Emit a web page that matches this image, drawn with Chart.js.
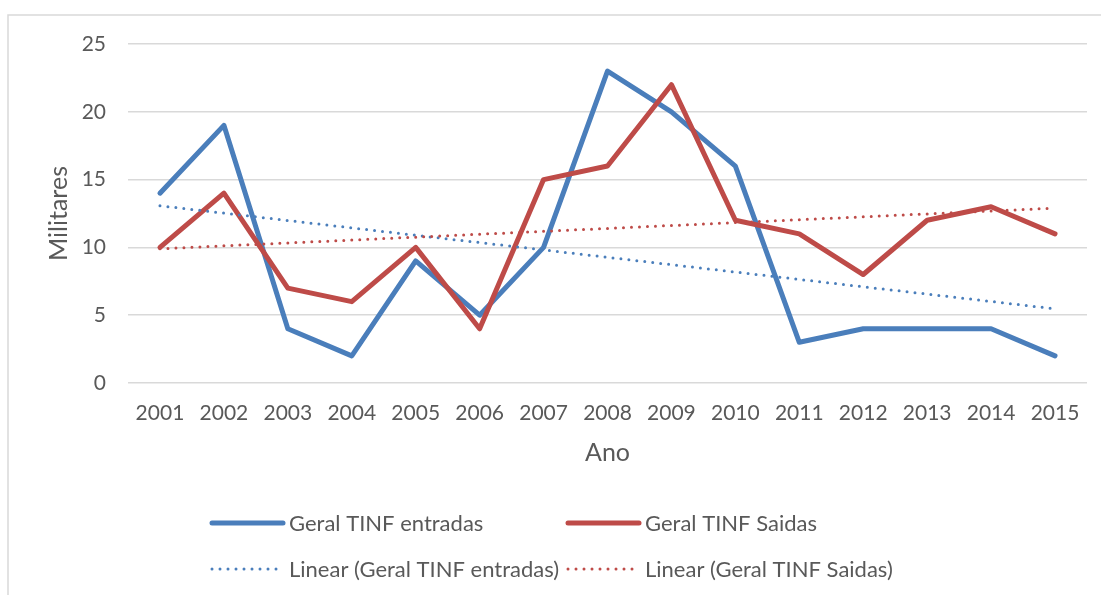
<!DOCTYPE html>
<html>
<head>
<meta charset="utf-8">
<script src="https://cdn.jsdelivr.net/npm/chart.js@4/dist/chart.umd.min.js"></script>
<style>
  html, body { margin: 0; padding: 0; background: #fff; overflow: hidden; }
  canvas { display: block; }
</style>
</head>
<body>
<canvas id="chart" width="1101" height="595"></canvas>
<script>
// values
const years = ['2001', '2002', '2003', '2004', '2005', '2006', '2007', '2008',
  '2009', '2010', '2011', '2012', '2013', '2014', '2015'];
const entradas = [14, 19, 4, 2, 9, 5, 10, 23, 20, 16, 3, 4, 4, 4, 2];
const saidas = [10, 14, 7, 6, 10, 4, 15, 16, 22, 12, 11, 8, 12, 13, 11];
// trend lines: value at first and last year
const trendEntradas = [13.07, 5.47];
const trendSaidas = [9.9, 12.9];
const yTicks = [0, 5, 10, 15, 20, 25];

const blue = '#4a7ebb';
const red = '#be4b48';
const grey = '#595959';
const FONT = 'Lato, "Liberation Sans", sans-serif';

// put the two end values on the first and last category, gaps in between
function trendSeries(ends) {
  const arr = years.map(() => null);
  arr[0] = ends[0];
  arr[arr.length - 1] = ends[1];
  return arr;
}

const legendItems = [
  { label: 'Geral TINF entradas', color: blue, dotted: false },
  { label: 'Geral TINF Saidas', color: red, dotted: false },
  { label: 'Linear (Geral TINF entradas)', color: blue, dotted: true },
  { label: 'Linear (Geral TINF Saidas)', color: red, dotted: true }
];

// frame round the chart, as in the spreadsheet export
const framePlugin = {
  id: 'frame',
  beforeDraw(chart) {
    const ctx = chart.ctx;
    ctx.save();
    ctx.strokeStyle = '#d9d9d9';
    ctx.lineWidth = 1.5;
    ctx.strokeRect(8, 15, chart.width + 50, chart.height + 50);
    ctx.restore();
  }
};

// two-column legend under the axis
const legendPlugin = {
  id: 'colLegend',
  afterDraw(chart) {
    const ctx = chart.ctx;
    const cols = [212, 568];
    const rows = [523, 569];
    ctx.save();
    ctx.font = '22px ' + FONT;
    ctx.textBaseline = 'middle';
    ctx.textAlign = 'left';
    legendItems.forEach((item, i) => {
      const x = cols[i % 2];
      const y = rows[Math.floor(i / 2)];
      ctx.beginPath();
      ctx.strokeStyle = item.color;
      ctx.lineCap = 'round';
      if (item.dotted) {
        ctx.lineWidth = 3;
        ctx.setLineDash([0, 8]);
      } else {
        ctx.lineWidth = 5;
        ctx.setLineDash([]);
      }
      ctx.moveTo(x, y);
      ctx.lineTo(x + 71, y);
      ctx.stroke();
      ctx.setLineDash([]);
      ctx.fillStyle = grey;
      ctx.fillText(item.label, x + 77, y + 1);
    });
    ctx.restore();
  }
};

const ctx = document.getElementById('chart').getContext('2d');
new Chart(ctx, {
  type: 'line',
  data: {
    labels: years,
    datasets: [
      {
        label: 'Geral TINF entradas',
        data: entradas,
        borderColor: blue,
        borderWidth: 5,
        borderCapStyle: 'round',
        borderJoinStyle: 'round',
        pointRadius: 0,
        tension: 0,
        order: 4
      },
      {
        label: 'Geral TINF Saidas',
        data: saidas,
        borderColor: red,
        borderWidth: 5,
        borderCapStyle: 'round',
        borderJoinStyle: 'round',
        pointRadius: 0,
        tension: 0,
        order: 3
      },
      {
        label: 'Linear (Geral TINF entradas)',
        data: trendSeries(trendEntradas),
        borderColor: blue,
        borderWidth: 3,
        borderDash: [0, 8],
        borderCapStyle: 'round',
        pointRadius: 0,
        spanGaps: true,
        order: 2
      },
      {
        label: 'Linear (Geral TINF Saidas)',
        data: trendSeries(trendSaidas),
        borderColor: red,
        borderWidth: 3,
        borderDash: [0, 8],
        borderCapStyle: 'round',
        pointRadius: 0,
        spanGaps: true,
        order: 1
      }
    ]
  },
  options: {
    responsive: false,
    animation: false,
    layout: { padding: { left: 0, right: 14, top: 44, bottom: 127 } },
    plugins: {
      legend: { display: false },
      tooltip: { enabled: false }
    },
    scales: {
      x: {
        offset: true,
        afterFit(scale) { scale.height = 85; },
        grid: { display: false, drawTicks: false },
        border: { display: false },
        ticks: { color: grey, font: { family: FONT, size: 21 }, padding: 18, maxRotation: 0 },
        title: { display: true, text: 'Ano', color: grey, font: { family: FONT, size: 25 }, padding: { top: 10, bottom: 0 } }
      },
      y: {
        min: 0,
        max: 25,
        afterFit(scale) { scale.width = 128; },
        afterBuildTicks(scale) { scale.ticks = yTicks.map(v => ({ value: v })); },
        grid: { color: '#d9d9d9', lineWidth: 1.5, drawTicks: false },
        border: { display: false },
        ticks: { color: grey, font: { family: FONT, size: 21 }, padding: 22 },
        title: { display: true, text: 'Militares', color: grey, font: { family: FONT, size: 25 }, padding: { top: 44, bottom: 0 } }
      }
    }
  },
  plugins: [framePlugin, legendPlugin]
});
</script>
</body>
</html>
